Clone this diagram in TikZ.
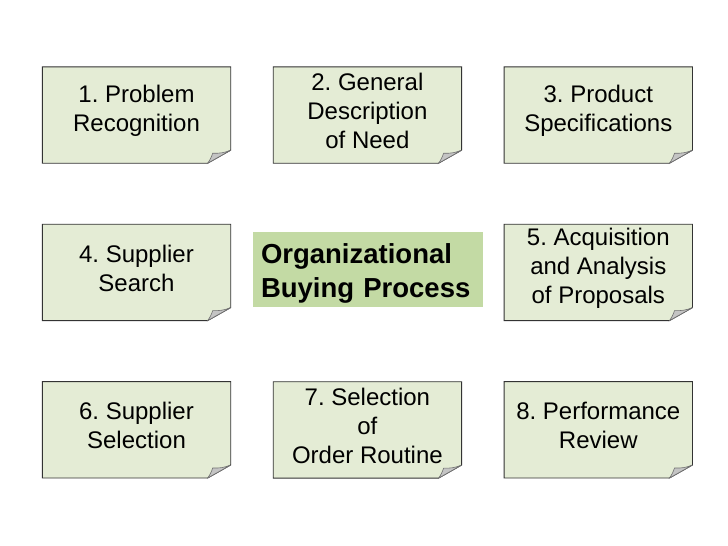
\documentclass[tikz,border=0pt]{standalone}
\usepackage{fontspec}
\setmainfont{Liberation Sans}
\frenchspacing
\usetikzlibrary{positioning,backgrounds}

\definecolor{notegreen}{HTML}{E4ECD5}
\definecolor{titlegreen}{HTML}{C3DAA4}
\definecolor{foldgray}{HTML}{C4C4C4}
\definecolor{edgegray}{HTML}{333333}

\begin{document}
\begin{tikzpicture}[x=1pt, y=-1pt,
  note/.style={rectangle, minimum width=188pt, minimum height=96pt,
               inner sep=0pt, align=center,
               font=\fontsize{24}{29}\selectfont},
  notebox/.style={draw=edgegray, line width=0.9pt, fill=notegreen, line join=miter},
  fold/.style={draw=edgegray!70, line width=0.6pt, fill=foldgray},
  title/.style={rectangle, minimum width=230pt, minimum height=75pt,
                inner xsep=8pt, text width=214pt, align=left,
                font=\fontsize{27.5}{34}\bfseries\selectfont}
]
\useasboundingbox (0,0) rectangle (728,546);

% --- Notes (Text sitzt 4pt ueber der Mitte des Zettels) ---
\node[note] (prob) at (136.5,111) {1. Problem\\Recognition};
\node[note, right=42.5pt of prob] (need) {2. General\\Description\\of Need};
\node[note, right=42.5pt of need] (spec) {3. Product\\Specifications};

\node[note, below=61pt of prob] (search) {4. Supplier\\ Search};
\node[note, below=61pt of spec] (prop)   {5. Acquisition\\and Analysis\\of Proposals};

\node[note, below=61pt of search] (select)  {6. Supplier\\ Selection};
\node[note, below=61pt of need, yshift=-157.5pt] (order) {7. Selection\\of\\Order Routine};
\node[note, below=61pt of prop]   (review)  {8. Performance\\Review};

% Titel in der Mitte
\node[title] (proc) at (368,273) {Organizational\\Buying Process};

% --- Zettel mit Eselsohr ---
\begin{scope}[on background layer]
  \fill[titlegreen] ([yshift=3.5pt]proc.north west) rectangle ([yshift=3.5pt]proc.south east);
  \foreach \n in {prob,need,spec,search,prop,select,order,review}{
    \draw[notebox] ([yshift=-4pt]\n.north west) -- ([yshift=-4pt]\n.north east)
      -- ([yshift=9pt]\n.south east) -- ([xshift=-23pt,yshift=-4pt]\n.south east)
      -- ([yshift=-4pt]\n.south west) -- cycle;
    \draw[fold] ([yshift=9pt]\n.south east)
      to[bend left=12] ([xshift=-18pt,yshift=6pt]\n.south east)
      to[bend left=8] ([xshift=-23pt,yshift=-4pt]\n.south east) -- cycle;
  }
\end{scope}

\end{tikzpicture}
\end{document}
